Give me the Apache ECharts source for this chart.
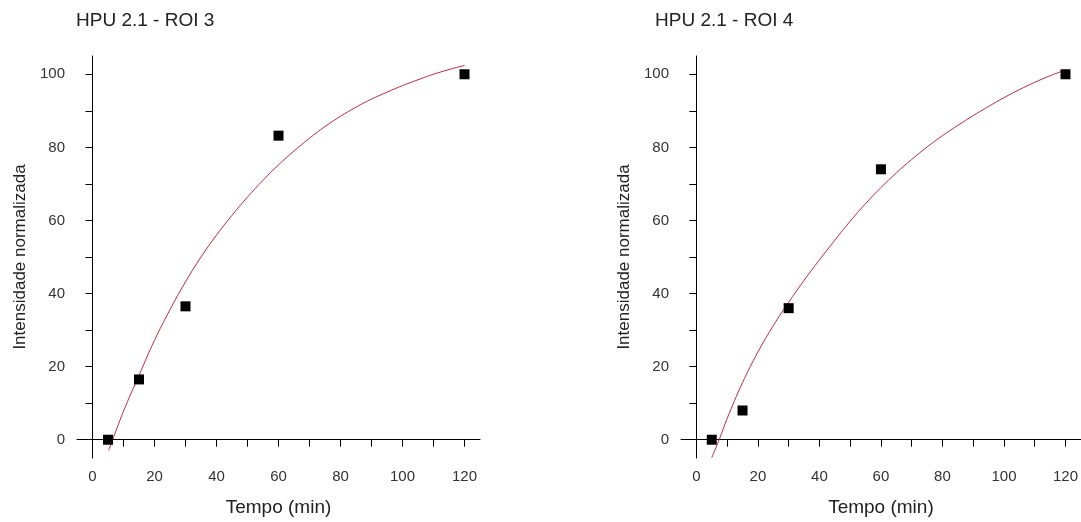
<!DOCTYPE html>
<html>
<head>
<meta charset="utf-8">
<script src="https://cdn.jsdelivr.net/npm/echarts@6/dist/echarts.min.js"></script>
<style>
  html, body { margin: 0; padding: 0; background: #fff; }
  #chart { width: 1081px; height: 522px; }
</style>
</head>
<body>
<div id="chart"></div>
<script>
// Measured points (time in min, normalized intensity)
const timeMin = [5, 15, 30, 60, 120];
const roi3Values = [0, 16.5, 36.5, 83.2, 100];
const roi4Values = [0, 8, 36, 74, 100];

// Fitted curves, sampled along time
const fitTime3 = [5.2, 10, 15, 20, 25, 30, 35, 40, 45, 50, 55, 60, 65, 70, 75, 80, 85, 90, 95, 100, 105, 110, 115, 120];
const fitRoi3 = [-3, 7.8, 17.6, 27.2, 35.6, 43.2, 50.0, 56.0, 61.4, 66.4, 71.0, 75.2, 79.0, 82.5, 85.7, 88.5, 91.0, 93.2, 95.1, 96.9, 98.5, 100.0, 101.3, 102.4];
const fitTime4 = [5.0, 7.5, 10, 15, 20, 25, 30, 35, 40, 45, 50, 55, 60, 65, 70, 75, 80, 85, 90, 95, 100, 105, 110, 115, 120];
const fitRoi4 = [-4.9, 0.2, 5.8, 15.6, 24.0, 31.2, 37.6, 43.6, 49.2, 54.6, 59.8, 64.6, 69.0, 73.0, 76.7, 80.1, 83.2, 86.0, 88.7, 91.2, 93.6, 95.8, 97.8, 99.6, 101.2];

// Tick labels
const xLabels = [0, 20, 40, 60, 80, 100, 120];
const xTicks = [0, 10, 20, 30, 40, 50, 60, 70, 80, 90, 100, 110, 120];
const yLabels = [0, 20, 40, 60, 80, 100];
const yTicks = [0, 10, 20, 30, 40, 50, 60, 70, 80, 90, 100];

const titles = ['HPU 2.1 - ROI 3', 'HPU 2.1 - ROI 4'];
const xName = 'Tempo (min)';
const yName = 'Intensidade normalizada';

const FONT = '"Liberation Sans", Arial, sans-serif';
const AXIS_COLOR = '#000';

function pairs(xs, ys) { return xs.map((x, i) => [x, ys[i]]); }

function xAxis(gridIndex) {
  return {
    type: 'value', gridIndex, min: -5, max: 125,
    name: xName, nameLocation: 'middle', nameGap: 40,
    nameTextStyle: { fontFamily: FONT, fontSize: 19, color: '#222' },
    axisLine: { show: true, lineStyle: { color: AXIS_COLOR, width: 1 } },
    axisTick: { show: true, inside: false, length: 7, customValues: xTicks, lineStyle: { color: AXIS_COLOR } },
    axisLabel: { customValues: xLabels, fontFamily: FONT, fontSize: 15, color: '#333', margin: 11 },
    splitLine: { show: false }
  };
}

function yAxis(gridIndex) {
  return {
    type: 'value', gridIndex, min: -5, max: 105,
    name: yName, nameLocation: 'middle', nameGap: 48, nameRotate: 90,
    nameTextStyle: { fontFamily: FONT, fontSize: 17, color: '#222' },
    axisLine: { show: true, lineStyle: { color: AXIS_COLOR, width: 1 } },
    axisTick: { show: true, inside: false, length: 7, customValues: yTicks, lineStyle: { color: AXIS_COLOR } },
    axisLabel: { customValues: yLabels, fontFamily: FONT, fontSize: 15, color: '#333', margin: 12 },
    splitLine: { show: false }
  };
}

function scatter(i, values) {
  return {
    type: 'scatter', xAxisIndex: i, yAxisIndex: i,
    data: pairs(timeMin, values),
    symbol: 'rect', symbolSize: 10,
    itemStyle: { color: '#000', opacity: 1 }, z: 3
  };
}

function fit(i, xs, ys) {
  return {
    type: 'line', xAxisIndex: i, yAxisIndex: i,
    data: pairs(xs, ys), smooth: 0.4, showSymbol: false,
    lineStyle: { color: '#c42a3c', width: 1 }, z: 2, clip: true
  };
}

const titleStyle = { fontFamily: FONT, fontSize: 19, fontWeight: 'normal', color: '#222' };

const chart = echarts.init(document.getElementById('chart'), null, { renderer: 'canvas' });
chart.setOption({
  backgroundColor: '#fff',
  animation: false,
  title: [
    { text: titles[0], left: 76, top: 11, padding: 0, textStyle: titleStyle },
    { text: titles[1], left: 655, top: 11, padding: 0, textStyle: titleStyle }
  ],
  grid: [
    { left: 77, top: 56, width: 403, height: 404 },
    { left: 681, top: 56, width: 403, height: 404 }
  ],
  xAxis: [xAxis(0), xAxis(1)],
  yAxis: [yAxis(0), yAxis(1)],
  series: [
    fit(0, fitTime3, fitRoi3),
    scatter(0, roi3Values),
    fit(1, fitTime4, fitRoi4),
    scatter(1, roi4Values)
  ]
});
</script>
</body>
</html>
